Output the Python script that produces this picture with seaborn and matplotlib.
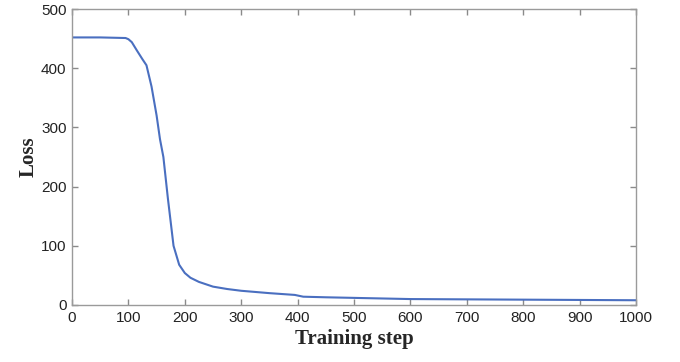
import numpy as np
import pandas as pd
import matplotlib
matplotlib.use("Agg")
import matplotlib.pyplot as plt
import seaborn as sns

# loss curve
steps = [0, 50, 95, 100, 106, 115, 125, 132, 141, 150, 156, 162, 170, 180,
         190, 200, 210, 225, 250, 275, 300, 350, 395, 410, 450, 500, 600,
         700, 800, 900, 1000]
loss = [452, 452, 451, 449, 444, 430, 415, 405, 369, 320, 280, 250, 180, 100,
        68, 54, 46, 39, 31, 27, 24, 20, 17, 14, 13, 12, 10, 9.5, 9, 8.5, 8]

x_ticks = list(range(0, 1001, 100))
y_ticks = [0, 100, 200, 300, 400, 500]

sns.set_style("white")
plt.rcParams['font.family'] = ['Liberation Sans', 'DejaVu Sans']

df = pd.DataFrame({'step': steps, 'loss': loss})

fig = plt.figure(figsize=(6.8, 3.62), dpi=100)
ax = fig.add_axes([0.1059, 0.1575, 0.8294, 0.8176])

sns.lineplot(data=df, x='step', y='loss', ax=ax, color='#4a6fc0', linewidth=1.5)

ax.set_xlim(0, 1000)
ax.set_ylim(0, 500)
ax.set_xticks(x_ticks)
ax.set_yticks(y_ticks)

for s in ax.spines.values():
    s.set_visible(True)
    s.set_color('#9a9a9a')
    s.set_linewidth(1.0)

ax.tick_params(direction='in', length=4, width=1, color='#8a8a8a',
               labelsize=11, labelcolor='#222222', pad=4,
               top=True, right=True, bottom=True, left=True)

ax.set_xlabel('Training step', family='Liberation Serif', fontweight='bold',
              fontsize=15, labelpad=3)
ax.set_ylabel('Loss', family='Liberation Serif', fontweight='bold',
              fontsize=15, labelpad=2)

fig.savefig('out.png', dpi=100)
